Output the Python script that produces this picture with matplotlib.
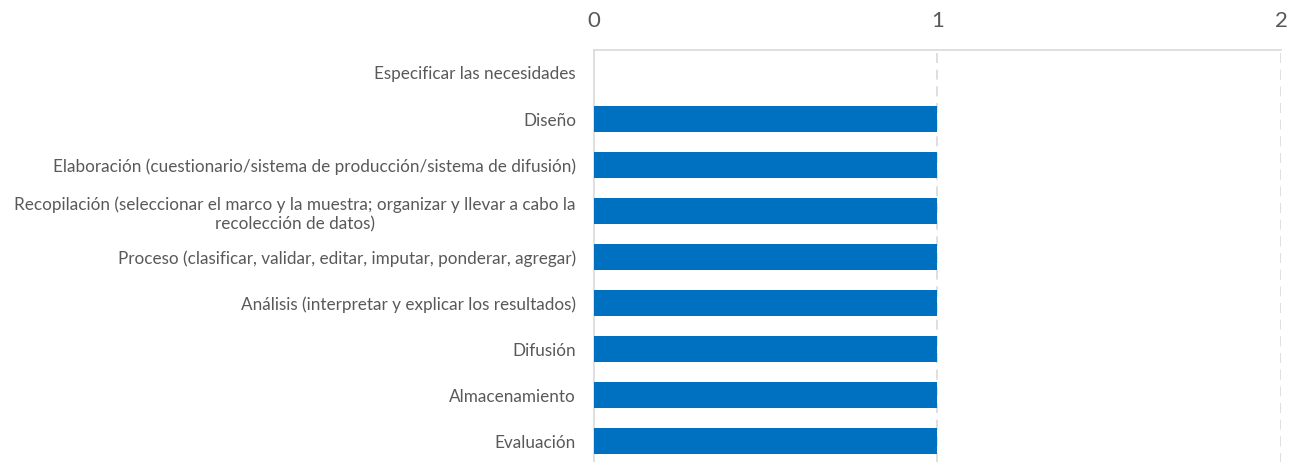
import matplotlib
matplotlib.use("Agg")
import matplotlib.pyplot as plt

categories = [
    "Especificar las necesidades",
    "Diseño",
    "Elaboración (cuestionario/sistema de producción/sistema de difusión)",
    "Recopilación (seleccionar el marco y la muestra; organizar y llevar a cabo la\nrecolección de datos)",
    "Proceso (clasificar, validar, editar, imputar, ponderar, agregar)",
    "Análisis (interpretar y explicar los resultados)",
    "Difusión",
    "Almacenamiento",
    "Evaluación",
]
values = [0, 1, 1, 1, 1, 1, 1, 1, 1]
xticks = [0, 1, 2]

plt.rcParams['font.family'] = ['Lato', 'DejaVu Sans']
text_color = '#595959'
grid_color = '#D9D9D9'

fig = plt.figure(figsize=(12.96, 4.62), dpi=100)
ax = fig.add_axes([594/1296, 1 - 464/462, (1281-594)/1296, 414/462])

y = list(range(len(categories)))
ax.barh(y, values, height=0.57, color='#0070C0', zorder=3)
ax.set_ylim(len(categories) - 0.5, -0.5)
ax.set_xlim(0, 2)
ax.set_xticks(xticks)
ax.set_xticklabels([str(t) for t in xticks])
ax.xaxis.tick_top()
ax.tick_params(axis='x', length=0, pad=14, labelsize=16, labelcolor=text_color)
ax.tick_params(axis='y', length=0, pad=13, labelsize=12.3, labelcolor=text_color)
ax.set_yticks(y)
ax.set_yticklabels(categories, multialignment='center', linespacing=1.3)

for v in [1, 2]:
    ax.axvline(v, color=grid_color, linestyle=(0, (6, 4)), linewidth=1.2, zorder=1)

for side in ['right', 'bottom']:
    ax.spines[side].set_visible(False)
for side in ['top', 'left']:
    ax.spines[side].set_color(grid_color)
    ax.spines[side].set_linewidth(1.2)

fig.savefig('out.png', dpi=100)
